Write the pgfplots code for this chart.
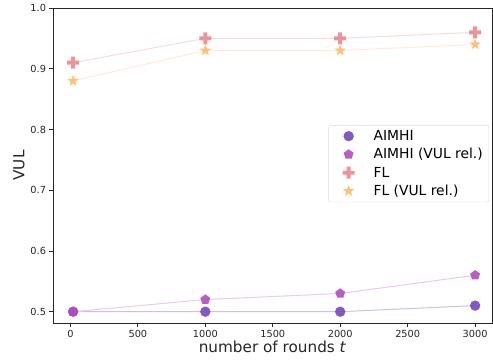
\documentclass[border=0pt]{standalone}
\usepackage{pgfplots}
\pgfplotsset{compat=1.18}
\usepackage{fontspec}
\setmainfont{DejaVu Sans}
\usetikzlibrary{calc}
\definecolor{cA}{RGB}{118,72,190}
\definecolor{cB}{RGB}{178,78,190}
\definecolor{cC}{RGB}{234,136,144}
\definecolor{cD}{RGB}{254,188,104}
\definecolor{tc}{RGB}{38,38,38}
\pgfdeclareplotmark{fstar}{%
  \pgfpathmoveto{\pgfpointpolar{90}{\pgfplotmarksize}}%
  \pgfpathlineto{\pgfpointpolar{126}{0.42\pgfplotmarksize}}%
  \pgfpathlineto{\pgfpointpolar{162}{\pgfplotmarksize}}%
  \pgfpathlineto{\pgfpointpolar{198}{0.42\pgfplotmarksize}}%
  \pgfpathlineto{\pgfpointpolar{234}{\pgfplotmarksize}}%
  \pgfpathlineto{\pgfpointpolar{270}{0.42\pgfplotmarksize}}%
  \pgfpathlineto{\pgfpointpolar{306}{\pgfplotmarksize}}%
  \pgfpathlineto{\pgfpointpolar{342}{0.42\pgfplotmarksize}}%
  \pgfpathlineto{\pgfpointpolar{18}{\pgfplotmarksize}}%
  \pgfpathlineto{\pgfpointpolar{54}{0.42\pgfplotmarksize}}%
  \pgfpathclose
  \pgfusepathqfill}
\pgfdeclareplotmark{fplus}{%
  \pgfpathrectanglecorners{\pgfpoint{-\pgfplotmarksize}{-0.33\pgfplotmarksize}}{\pgfpoint{\pgfplotmarksize}{0.33\pgfplotmarksize}}%
  \pgfpathrectanglecorners{\pgfpoint{-0.33\pgfplotmarksize}{-\pgfplotmarksize}}{\pgfpoint{0.33\pgfplotmarksize}{\pgfplotmarksize}}%
  \pgfusepathqfill}
\pgfdeclareplotmark{fcirc}{%
  \pgfpathcircle{\pgfpointorigin}{\pgfplotmarksize}%
  \pgfusepathqfill}
\pgfdeclareplotmark{fpent}{%
  \pgfpathmoveto{\pgfpointpolar{90}{\pgfplotmarksize}}%
  \pgfpathlineto{\pgfpointpolar{162}{\pgfplotmarksize}}%
  \pgfpathlineto{\pgfpointpolar{234}{\pgfplotmarksize}}%
  \pgfpathlineto{\pgfpointpolar{306}{\pgfplotmarksize}}%
  \pgfpathlineto{\pgfpointpolar{18}{\pgfplotmarksize}}%
  \pgfpathclose
  \pgfusepathqfill}
\begin{document}
\begin{tikzpicture}
\begin{axis}[
  scale only axis,
  width=439bp, height=315bp,
  xmin=-129, xmax=3125,
  ymin=0.4814, ymax=1.0,
  xtick={0,500,1000,1500,2000,2500,3000},
  ytick={0.5,0.6,0.7,0.8,0.9,1.0},
  xticklabel style={/pgf/number format/1000 sep={}},
  yticklabel style={/pgf/number format/.cd,fixed,fixed zerofill,precision=1},
  /pgf/number format/assume math mode=true,
  tick label style={font=\fontsize{9.8}{11.5}\selectfont, text=tc},
  tick align=outside,
  tick pos=left,
  major tick length=3.5bp,
  every tick/.style={tc, line width=0.8bp},
  axis line style={tc, line width=0.8bp},
  xlabel={number of rounds \textit{t}},
  ylabel={VUL},
  label style={font=\fontsize{15.3}{17}\selectfont, text=tc},
  xlabel style={yshift=3bp},
  ylabel style={yshift=-1bp},
  legend style={at={(0.993,0.628)}, anchor=north east, font=\fontsize{13.9}{16}\selectfont,
    draw=black!15, rounded corners=2bp, row sep=2.5bp, inner xsep=4bp, inner ysep=3bp,
    text=black},
  legend cell align=left,
  legend image code/.code={\path[draw=none] (0bp,0bp) -- (39bp,0bp); \path plot coordinates {(16bp,0bp)};},
]
% lines
\addplot[forget plot, cA!35, line width=1bp] coordinates {(20,0.5) (1000,0.5) (2000,0.5) (3000,0.51)};
\addplot[forget plot, cB!30, line width=1bp] coordinates {(20,0.5) (1000,0.52) (2000,0.53) (3000,0.56)};
\addplot[forget plot, cC!30, line width=1bp] coordinates {(20,0.91) (1000,0.95) (2000,0.95) (3000,0.96)};
\addplot[forget plot, cD!30, line width=1bp] coordinates {(20,0.88) (1000,0.93) (2000,0.93) (3000,0.94)};
% markers
\addplot[only marks, color=cA, mark=fcirc, mark size=5.2bp, mark options={fill=cA, fill opacity=0.9}] coordinates {(20,0.5) (1000,0.5) (2000,0.5) (3000,0.51)};
\addlegendentry{AIMHI}
\addplot[only marks, color=cB, mark=fpent, mark size=5.2bp, mark options={fill=cB, fill opacity=0.9}] coordinates {(20,0.5) (1000,0.52) (2000,0.53) (3000,0.56)};
\addlegendentry{AIMHI (VUL rel.)}
\addplot[only marks, color=cC, mark=fplus, mark size=6bp, mark options={fill=cC, fill opacity=0.9}] coordinates {(20,0.91) (1000,0.95) (2000,0.95) (3000,0.96)};
\addlegendentry{FL}
\addplot[only marks, color=cD, mark=fstar, mark size=6bp, mark options={fill=cD, fill opacity=0.9}] coordinates {(20,0.88) (1000,0.93) (2000,0.93) (3000,0.94)};
\addlegendentry{FL (VUL rel.)}
\end{axis}
\path ($(current axis.south west)+(-53bp,-41bp)$) rectangle ($(current axis.north east)+(1bp,8bp)$);
\end{tikzpicture}
\end{document}
